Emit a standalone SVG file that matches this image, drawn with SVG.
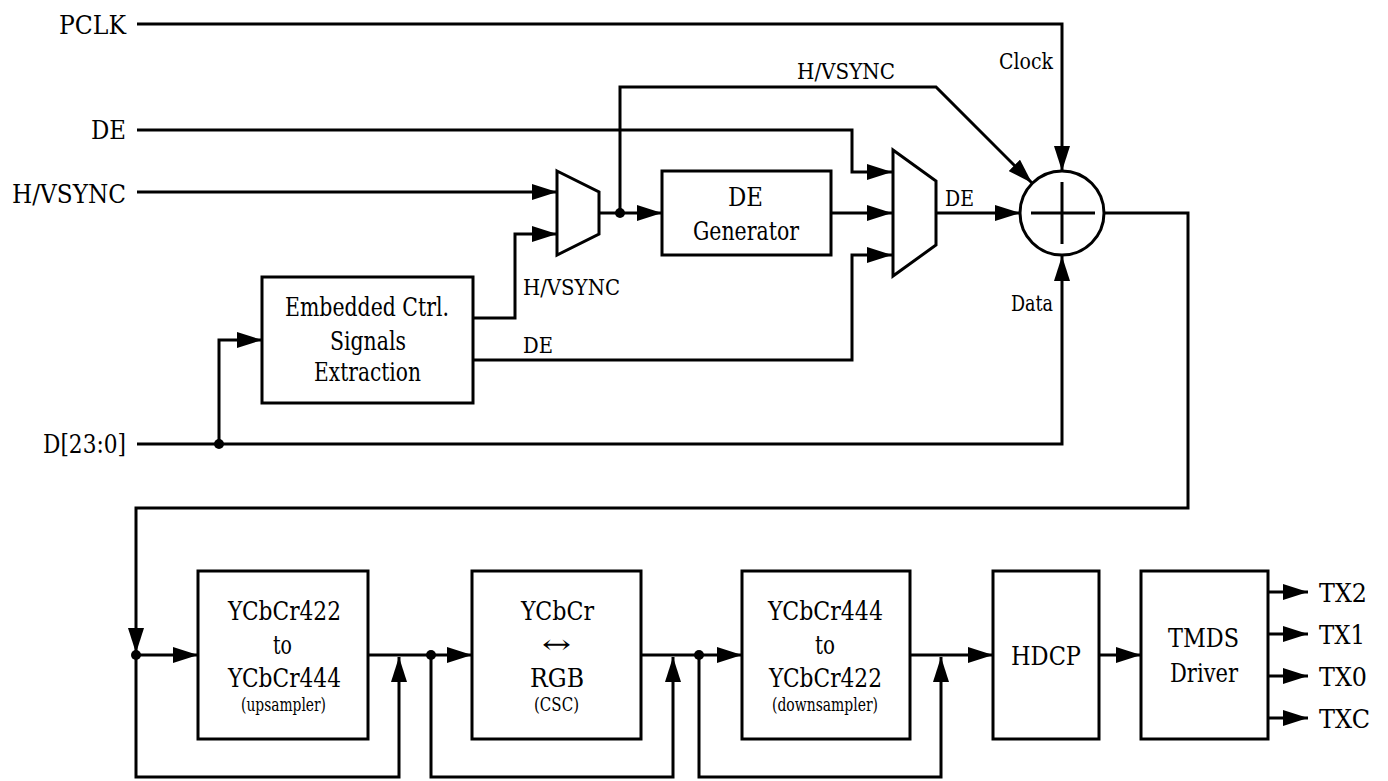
<svg xmlns="http://www.w3.org/2000/svg" width="1388" height="781" viewBox="0 0 1388 781">
<defs>
<marker id="arr" markerUnits="userSpaceOnUse" markerWidth="25" markerHeight="16" refX="25" refY="8" orient="auto">
<path d="M0,0 L25,8 L0,16 z" fill="#000"/>
</marker>
<style>
text{fill:#000}
.t{font-size:26px}
.m{font-size:26px;text-anchor:middle}
.s{font-size:22px}
.xs{font-size:18px;text-anchor:middle}
.lbl{font-size:26px;text-anchor:end}
.box{fill:#fff;stroke:#000;stroke-width:3}
.w{fill:none;stroke:#000;stroke-width:3}
.wa{fill:none;stroke:#000;stroke-width:3;marker-end:url(#arr)}
.dot{fill:#000}
</style>
</defs>
<rect width="1388" height="781" fill="#fff"/>

<g font-family="DejaVu Serif, serif">
<g id="connectors">
<path class="wa" d="M137,24 H1062 V171"/>
<path class="wa" d="M137,130 H852 V172 H892"/>
<path class="wa" d="M137,192 H557"/>
<path class="wa" d="M137,444 H1062 V256"/>
<path class="wa" d="M219,444 V340 H262"/>
<path class="wa" d="M473,318 H515 V234 H557"/>
<path class="wa" d="M473,360 H852 V255 H892"/>
<path class="wa" d="M599,213 H662"/>
<path class="wa" d="M620,213 V87 H936 L1032,183"/>
<path class="wa" d="M831,213 H892"/>
<path class="wa" d="M936,213 H1020"/>
<path class="wa" d="M1104,213 H1188 V508 H136 V653"/>
<path class="wa" d="M136,655 H198"/>
<path class="wa" d="M368,655 H472"/>
<path class="wa" d="M641,655 H742"/>
<path class="wa" d="M910,655 H993"/>
<path class="wa" d="M1099,655 H1141"/>
<path class="wa" d="M136,655 V777 H399 V657"/>
<path class="wa" d="M431,655 V777 H673 V657"/>
<path class="wa" d="M699,655 V777 H941 V657"/>
<path class="wa" d="M1268,592 H1308"/>
<path class="wa" d="M1268,634 H1308"/>
<path class="wa" d="M1268,676 H1308"/>
<path class="wa" d="M1268,718 H1308"/>
<circle class="dot" cx="620" cy="213" r="5"/>
<circle class="dot" cx="219" cy="444" r="5"/>
<circle class="dot" cx="136" cy="655" r="5"/>
<circle class="dot" cx="431" cy="655" r="5"/>
<circle class="dot" cx="699" cy="655" r="5"/>
<text class="s" x="797" y="79" textLength="98" lengthAdjust="spacingAndGlyphs">H/VSYNC</text>
<text class="s" x="999" y="69" textLength="54" lengthAdjust="spacingAndGlyphs">Clock</text>
<text class="s" x="1011" y="311" textLength="42" lengthAdjust="spacingAndGlyphs">Data</text>
<text class="s" x="945" y="206" textLength="29" lengthAdjust="spacingAndGlyphs">DE</text>
<text class="s" x="523" y="295" textLength="97" lengthAdjust="spacingAndGlyphs">H/VSYNC</text>
<text class="s" x="523" y="353" textLength="30" lengthAdjust="spacingAndGlyphs">DE</text>
</g>

<g id="in-pclk"><text class="t" x="59" y="34" textLength="67" lengthAdjust="spacingAndGlyphs">PCLK</text></g>
<g id="in-de"><text class="t" x="91" y="139" textLength="35" lengthAdjust="spacingAndGlyphs">DE</text></g>
<g id="in-hvsync"><text class="t" x="12" y="203" textLength="114" lengthAdjust="spacingAndGlyphs">H/VSYNC</text></g>
<g id="in-data"><text class="t" x="43" y="453" textLength="83" lengthAdjust="spacingAndGlyphs">D[23:0]</text></g>

<g id="mux1"><path class="box" d="M557,171 L599,192 L599,234 L557,255 Z"/></g>
<g id="mux2"><path class="box" d="M893,150 L936,181 L936,245 L893,276 Z"/></g>

<g id="de-generator">
<rect class="box" x="662" y="171" width="169" height="84"/>
<text class="t" x="728" y="206" textLength="35" lengthAdjust="spacingAndGlyphs">DE</text>
<text class="t" x="693" y="240" textLength="106" lengthAdjust="spacingAndGlyphs">Generator</text>
</g>

<g id="embedded">
<rect class="box" x="262" y="277" width="211" height="126"/>
<text class="t" x="285" y="316" textLength="164" lengthAdjust="spacingAndGlyphs">Embedded Ctrl.</text>
<text class="t" x="330" y="350" textLength="76" lengthAdjust="spacingAndGlyphs">Signals</text>
<text class="t" x="314" y="381" textLength="107" lengthAdjust="spacingAndGlyphs">Extraction</text>
</g>

<g id="combiner">
<circle class="box" cx="1062" cy="213" r="42"/>
<path class="w" d="M1031,213 H1095 M1062,182 V244"/>
</g>

<g id="upsampler">
<rect class="box" x="198" y="571" width="170" height="168"/>
<text class="t" x="228" y="620" textLength="113" lengthAdjust="spacingAndGlyphs">YCbCr422</text>
<text class="t" x="273" y="654" textLength="19" lengthAdjust="spacingAndGlyphs">to</text>
<text class="t" x="228" y="687" textLength="113" lengthAdjust="spacingAndGlyphs">YCbCr444</text>
<text class="xs" x="241" y="711" style="text-anchor:start" textLength="85" lengthAdjust="spacingAndGlyphs">(upsampler)</text>
</g>

<g id="csc">
<rect class="box" x="472" y="571" width="169" height="168"/>
<text class="t" x="521" y="620" textLength="73" lengthAdjust="spacingAndGlyphs">YCbCr</text>
<text class="t" x="542" y="653" textLength="29" lengthAdjust="spacingAndGlyphs">↔</text>
<text class="t" x="530" y="687" textLength="54" lengthAdjust="spacingAndGlyphs">RGB</text>
<text class="xs" x="534" y="711" style="text-anchor:start" textLength="45" lengthAdjust="spacingAndGlyphs">(CSC)</text>
</g>

<g id="downsampler">
<rect class="box" x="742" y="571" width="168" height="168"/>
<text class="t" x="768" y="620" textLength="115" lengthAdjust="spacingAndGlyphs">YCbCr444</text>
<text class="t" x="815" y="654" textLength="20" lengthAdjust="spacingAndGlyphs">to</text>
<text class="t" x="769" y="687" textLength="113" lengthAdjust="spacingAndGlyphs">YCbCr422</text>
<text class="xs" x="772" y="711" style="text-anchor:start" textLength="106" lengthAdjust="spacingAndGlyphs">(downsampler)</text>
</g>

<g id="hdcp">
<rect class="box" x="993" y="571" width="106" height="168"/>
<text class="t" x="1011" y="665" textLength="70" lengthAdjust="spacingAndGlyphs">HDCP</text>
</g>

<g id="tmds">
<rect class="box" x="1141" y="571" width="127" height="168"/>
<text class="t" x="1168" y="647" textLength="71" lengthAdjust="spacingAndGlyphs">TMDS</text>
<text class="t" x="1170" y="682" textLength="68" lengthAdjust="spacingAndGlyphs">Driver</text>
</g>

<g id="outputs">
<text class="t" x="1319" y="602" textLength="48" lengthAdjust="spacingAndGlyphs">TX2</text>
<text class="t" x="1319" y="644" textLength="46" lengthAdjust="spacingAndGlyphs">TX1</text>
<text class="t" x="1319" y="686" textLength="48" lengthAdjust="spacingAndGlyphs">TX0</text>
<text class="t" x="1319" y="728" textLength="51" lengthAdjust="spacingAndGlyphs">TXC</text>
</g>
</g>
</svg>
